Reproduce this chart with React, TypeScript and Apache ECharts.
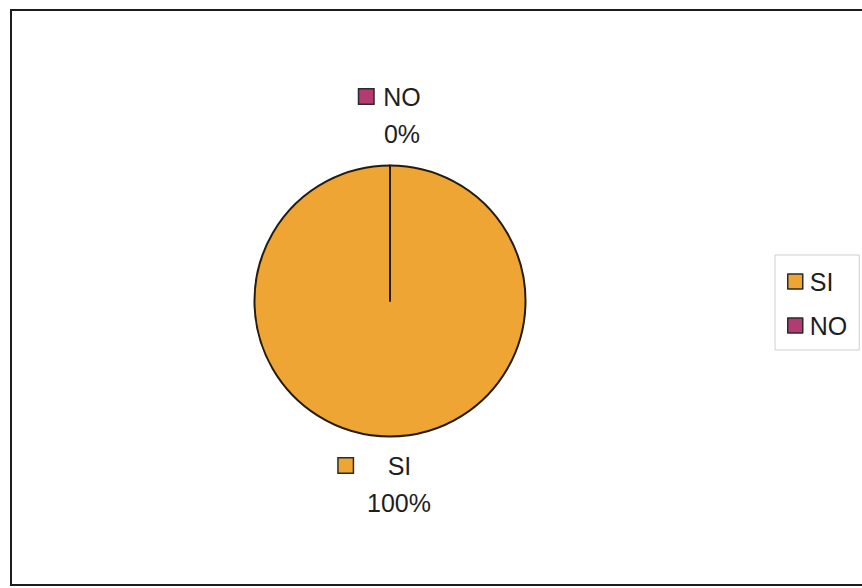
import React, { useEffect, useRef } from "react";
import * as echarts from "echarts";

const categories = ["SI", "NO"];
const values = [100, 0];
const sliceColors = ["#EFA533", "#B43A72"];

const FONT = "'Liberation Sans', Arial, sans-serif";

export default function App() {
  const ref = useRef<HTMLDivElement>(null);

  useEffect(() => {
    if (!ref.current) return;
    const chart = echarts.init(ref.current, undefined, { renderer: "svg" });

    const labelAnchors = [
      { x: 399, y: 484 },
      { x: 402, y: 115 },
    ];
    const markerGap = [35, 10];
    const trailing = [48, 24];

    const rich: Record<string, any> = {
      t: { fontSize: 25, fontFamily: FONT, color: "#1e1e1e", lineHeight: 37 },
    };
    categories.forEach((_, i) => {
      rich["mk" + i] = {
        width: 14,
        height: 14,
        backgroundColor: sliceColors[i],
        borderColor: "#2a2a2a",
        borderWidth: 1.5,
      };
      rich["g" + i] = { width: markerGap[i], height: 10 };
      rich["s" + i] = { width: trailing[i], height: 10 };
    });

    const data = categories.map((name, i) => ({
      name,
      value: values[i],
      itemStyle: { color: sliceColors[i] },
    }));

    chart.setOption({
      animation: false,
      backgroundColor: "#ffffff",
      graphic: [
        {
          type: "rect",
          shape: { x: 11, y: 10, width: 900, height: 575 },
          style: { fill: "none", stroke: "#1c1c1c", lineWidth: 2 },
          silent: true,
          z: -1,
        },
      ],
      legend: {
        orient: "vertical",
        left: 775,
        top: 255,
        padding: [14, 12, 12, 12],
        itemGap: 19,
        itemWidth: 15,
        itemHeight: 15,
        icon: "rect",
        borderColor: "#cfcfcf",
        borderWidth: 1,
        data: categories,
        itemStyle: { borderColor: "#2a2a2a", borderWidth: 1.5 },
        textStyle: { fontSize: 25, fontFamily: FONT, color: "#1e1e1e", padding: [0, 0, 0, 2] },
        selectedMode: false,
      },
      series: [
        {
          type: "pie",
          center: [390, 301],
          radius: 135.5,
          startAngle: 90,
          clockwise: true,
          avoidLabelOverlap: false,
          itemStyle: { borderColor: "#231c10", borderWidth: 2 },
          emphasis: { disabled: true },
          labelLine: { show: false },
          label: {
            show: true,
            position: "outside",
            formatter: (p: any) => {
              const i = p.dataIndex;
              return `{mk${i}|}{g${i}|}{t|${p.name}}{s${i}|}\n{t|${p.percent}%}`;
            },
            rich,
          },
          labelLayout: (p: any) => ({
            x: labelAnchors[p.dataIndex].x,
            y: labelAnchors[p.dataIndex].y,
            align: "center",
            verticalAlign: "middle",
          }),
          data,
        },
      ],
    });

    return () => chart.dispose();
  }, []);

  return (
    <div
      ref={ref}
      style={{ position: "fixed", left: 0, top: 0, width: 862, height: 588 }}
    />
  );
}
